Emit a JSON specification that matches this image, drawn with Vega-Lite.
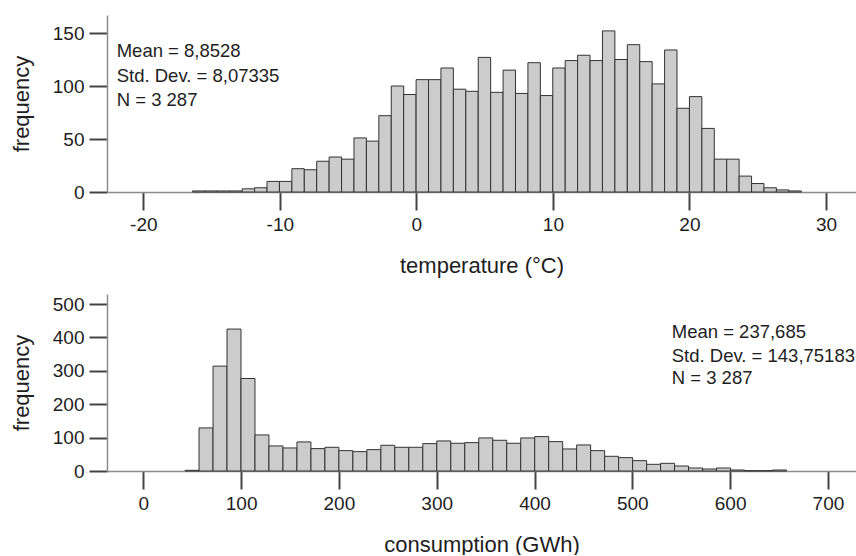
{
  "$schema": "https://vega.github.io/schema/vega-lite/v6.json",
  "padding": {"left": 10, "top": 15, "right": 0, "bottom": 0},
  "spacing": 18,
  "background": "white",
  "resolve": {"scale": {"x": "independent", "y": "independent"}},
  "config": {
    "view": {"stroke": null},
    "font": "Liberation Sans",
    "axis": {
      "grid": false,
      "domainColor": "#8c8c8c",
      "domainWidth": 1.5,
      "tickColor": "#444444",
      "tickWidth": 2,
      "tickSize": 18,
      "labelFont": "Liberation Sans",
      "labelFontSize": 19,
      "labelColor": "#1e1e1e",
      "labelPadding": 5,
      "labelOverlap": false,
      "labelExpr": "'' + datum.value",
      "titleFont": "Liberation Sans",
      "titleFontSize": 22,
      "titleFontWeight": "normal",
      "titleColor": "#1e1e1e"
    },
    "axisX": {"minExtent": 42, "maxExtent": 42, "titlePadding": 21, "labelFlush": false},
    "axisY": {"minExtent": 55, "maxExtent": 55, "titlePadding": 19}
  },
  "datasets": {
    "temperature": [
      {"lo": -16.40, "hi": -15.49, "count": 1},
      {"lo": -15.49, "hi": -14.58, "count": 1},
      {"lo": -14.58, "hi": -13.67, "count": 1},
      {"lo": -13.67, "hi": -12.76, "count": 1},
      {"lo": -12.76, "hi": -11.85, "count": 3},
      {"lo": -11.85, "hi": -10.94, "count": 4},
      {"lo": -10.94, "hi": -10.03, "count": 10},
      {"lo": -10.03, "hi": -9.12, "count": 10},
      {"lo": -9.12, "hi": -8.21, "count": 22},
      {"lo": -8.21, "hi": -7.30, "count": 21},
      {"lo": -7.30, "hi": -6.39, "count": 29},
      {"lo": -6.39, "hi": -5.48, "count": 33},
      {"lo": -5.48, "hi": -4.57, "count": 31},
      {"lo": -4.57, "hi": -3.66, "count": 51},
      {"lo": -3.66, "hi": -2.75, "count": 48},
      {"lo": -2.75, "hi": -1.84, "count": 72},
      {"lo": -1.84, "hi": -0.93, "count": 100},
      {"lo": -0.93, "hi": -0.02, "count": 92},
      {"lo": -0.02, "hi": 0.89, "count": 106},
      {"lo": 0.89, "hi": 1.80, "count": 106},
      {"lo": 1.80, "hi": 2.71, "count": 117},
      {"lo": 2.71, "hi": 3.62, "count": 97},
      {"lo": 3.62, "hi": 4.53, "count": 95},
      {"lo": 4.53, "hi": 5.44, "count": 127},
      {"lo": 5.44, "hi": 6.35, "count": 94},
      {"lo": 6.35, "hi": 7.26, "count": 115},
      {"lo": 7.26, "hi": 8.17, "count": 93},
      {"lo": 8.17, "hi": 9.08, "count": 122},
      {"lo": 9.08, "hi": 9.99, "count": 91},
      {"lo": 9.99, "hi": 10.90, "count": 117},
      {"lo": 10.90, "hi": 11.81, "count": 124},
      {"lo": 11.81, "hi": 12.72, "count": 129},
      {"lo": 12.72, "hi": 13.63, "count": 124},
      {"lo": 13.63, "hi": 14.54, "count": 152},
      {"lo": 14.54, "hi": 15.45, "count": 125},
      {"lo": 15.45, "hi": 16.36, "count": 139},
      {"lo": 16.36, "hi": 17.27, "count": 123},
      {"lo": 17.27, "hi": 18.18, "count": 102},
      {"lo": 18.18, "hi": 19.09, "count": 134},
      {"lo": 19.09, "hi": 20.00, "count": 79},
      {"lo": 20.00, "hi": 20.91, "count": 90},
      {"lo": 20.91, "hi": 21.82, "count": 60},
      {"lo": 21.82, "hi": 22.73, "count": 31},
      {"lo": 22.73, "hi": 23.64, "count": 31},
      {"lo": 23.64, "hi": 24.55, "count": 15},
      {"lo": 24.55, "hi": 25.46, "count": 8},
      {"lo": 25.46, "hi": 26.37, "count": 4},
      {"lo": 26.37, "hi": 27.28, "count": 2},
      {"lo": 27.28, "hi": 28.19, "count": 1}
    ],
    "consumption": [
      {"lo": 42.7, "hi": 57.0, "count": 2},
      {"lo": 57.0, "hi": 71.3, "count": 129},
      {"lo": 71.3, "hi": 85.6, "count": 314},
      {"lo": 85.6, "hi": 99.9, "count": 425},
      {"lo": 99.9, "hi": 114.2, "count": 277},
      {"lo": 114.2, "hi": 128.5, "count": 108},
      {"lo": 128.5, "hi": 142.8, "count": 75},
      {"lo": 142.8, "hi": 157.1, "count": 69},
      {"lo": 157.1, "hi": 171.4, "count": 87},
      {"lo": 171.4, "hi": 185.7, "count": 67},
      {"lo": 185.7, "hi": 200.0, "count": 71},
      {"lo": 200.0, "hi": 214.3, "count": 61},
      {"lo": 214.3, "hi": 228.6, "count": 58},
      {"lo": 228.6, "hi": 242.9, "count": 64},
      {"lo": 242.9, "hi": 257.2, "count": 77},
      {"lo": 257.2, "hi": 271.5, "count": 71},
      {"lo": 271.5, "hi": 285.8, "count": 71},
      {"lo": 285.8, "hi": 300.1, "count": 82},
      {"lo": 300.1, "hi": 314.4, "count": 90},
      {"lo": 314.4, "hi": 328.7, "count": 83},
      {"lo": 328.7, "hi": 343.0, "count": 85},
      {"lo": 343.0, "hi": 357.3, "count": 99},
      {"lo": 357.3, "hi": 371.6, "count": 92},
      {"lo": 371.6, "hi": 385.9, "count": 83},
      {"lo": 385.9, "hi": 400.2, "count": 99},
      {"lo": 400.2, "hi": 414.5, "count": 103},
      {"lo": 414.5, "hi": 428.8, "count": 88},
      {"lo": 428.8, "hi": 443.1, "count": 66},
      {"lo": 443.1, "hi": 457.4, "count": 78},
      {"lo": 457.4, "hi": 471.7, "count": 61},
      {"lo": 471.7, "hi": 486.0, "count": 44},
      {"lo": 486.0, "hi": 500.3, "count": 40},
      {"lo": 500.3, "hi": 514.6, "count": 31},
      {"lo": 514.6, "hi": 528.9, "count": 20},
      {"lo": 528.9, "hi": 543.2, "count": 23},
      {"lo": 543.2, "hi": 557.5, "count": 15},
      {"lo": 557.5, "hi": 571.8, "count": 9},
      {"lo": 571.8, "hi": 586.1, "count": 6},
      {"lo": 586.1, "hi": 600.4, "count": 9},
      {"lo": 600.4, "hi": 614.7, "count": 3},
      {"lo": 614.7, "hi": 629.0, "count": 1},
      {"lo": 629.0, "hi": 643.3, "count": 1},
      {"lo": 643.3, "hi": 657.6, "count": 3}
    ],
    "tempStats": [
      {"x": -21.95, "y": 127.1, "label": "Mean = 8,8528"},
      {"x": -21.95, "y": 104.2, "label": "Std. Dev. = 8,07335"},
      {"x": -21.95, "y": 81.6, "label": "N = 3 287"}
    ],
    "consStats": [
      {"x": 540.3, "y": 399, "label": "Mean = 237,685"},
      {"x": 540.3, "y": 326, "label": "Std. Dev. = 143,75183"},
      {"x": 540.3, "y": 261, "label": "N = 3 287"}
    ]
  },
  "vconcat": [
    {
      "width": 749,
      "height": 177,
      "layer": [
        {
          "data": {"name": "temperature"},
          "mark": {"type": "rect", "fill": "#cccccc", "stroke": "#333333", "strokeWidth": 1},
          "encoding": {
            "x": {"field": "lo", "type": "quantitative", "title": "temperature (°C)",
                  "scale": {"domain": [-22.66, 32.2], "nice": false, "zero": false},
                  "axis": {"values": [-20, -10, 0, 10, 20, 30]}},
            "x2": {"field": "hi"},
            "y": {"field": "count", "type": "quantitative", "title": "frequency",
                  "scale": {"domain": [0, 167], "nice": false},
                  "axis": {"values": [0, 50, 100, 150]}},
            "y2": {"datum": 0}
          }
        },
        {
          "data": {"name": "tempStats"},
          "mark": {"type": "text", "align": "left", "baseline": "alphabetic", "fontSize": 18.5, "color": "#1e1e1e", "font": "Liberation Sans"},
          "encoding": {
            "x": {"field": "x", "type": "quantitative", "title": "temperature (°C)",
                  "axis": {"values": [-20, -10, 0, 10, 20, 30]}},
            "y": {"field": "y", "type": "quantitative", "title": "frequency",
                  "axis": {"values": [0, 50, 100, 150]}},
            "text": {"field": "label"}
          }
        }
      ]
    },
    {
      "width": 749,
      "height": 177,
      "layer": [
        {
          "data": {"name": "consumption"},
          "mark": {"type": "rect", "fill": "#cccccc", "stroke": "#333333", "strokeWidth": 1},
          "encoding": {
            "x": {"field": "lo", "type": "quantitative", "title": "consumption (GWh)",
                  "scale": {"domain": [-37.1, 728.7], "nice": false, "zero": false},
                  "axis": {"values": [0, 100, 200, 300, 400, 500, 600, 700]}},
            "x2": {"field": "hi"},
            "y": {"field": "count", "type": "quantitative", "title": "frequency",
                  "scale": {"domain": [0, 530], "nice": false},
                  "axis": {"values": [0, 100, 200, 300, 400, 500]}},
            "y2": {"datum": 0}
          }
        },
        {
          "data": {"name": "consStats"},
          "mark": {"type": "text", "align": "left", "baseline": "alphabetic", "fontSize": 18.5, "color": "#1e1e1e", "font": "Liberation Sans"},
          "encoding": {
            "x": {"field": "x", "type": "quantitative", "title": "consumption (GWh)",
                  "axis": {"values": [0, 100, 200, 300, 400, 500, 600, 700]}},
            "y": {"field": "y", "type": "quantitative", "title": "frequency",
                  "axis": {"values": [0, 100, 200, 300, 400, 500]}},
            "text": {"field": "label"}
          }
        }
      ]
    }
  ]
}
